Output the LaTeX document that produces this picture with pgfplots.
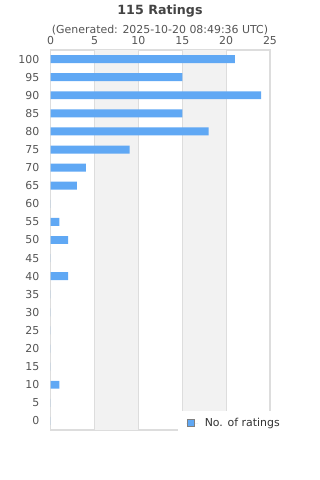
\documentclass[border=0pt]{standalone}
\usepackage{pgfplots}
\pgfplotsset{compat=1.18}
\usepackage{fontspec}
\setmainfont{DejaVu Sans}
\definecolor{barblue}{HTML}{60A8F4}
\definecolor{bandgray}{HTML}{F2F2F2}
\definecolor{gridgray}{HTML}{DDDDDD}
\definecolor{ticktext}{HTML}{555555}
\definecolor{titletext}{HTML}{444444}
\definecolor{legtext}{HTML}{333333}
\pgfplotstableread{
rating count
0 0
5 0
10 1
15 0
20 0
25 0
30 0
35 0
40 2
45 0
50 2
55 1
60 0
65 3
70 4
75 9
80 18
85 15
90 24
95 15
100 21
}\ratings
\begin{document}
\begin{tikzpicture}
\useasboundingbox (0,0) rectangle (240pt,360pt);
\node[font=\bfseries\fontsize{9.5}{11}\selectfont, text=titletext] at (120pt,351.5pt) {115 Ratings};
\node[font=\fontsize{8.2}{9.5}\selectfont, text=ticktext] at (120pt,337.5pt) {(Generated: 2025-10-20 08:49:36 UTC)};
\begin{axis}[
  at={(38pt,37.5pt)}, anchor=south west,
  scale only axis, width=164.5pt, height=285pt,
  xmin=0, xmax=25, ymin=-2.5, ymax=102.5,
  xtick={0,5,10,15,20,25},
  ytick={0,5,...,100},
  xticklabel pos=right,
  major tick length=0pt,
  axis line style={gridgray, line width=0.8pt},
  tick label style={font=\fontsize{8.2}{9.5}\selectfont, text=ticktext},
  /pgf/number format/assume math mode=true,
  xticklabel style={yshift=0.5pt},
  yticklabel style={xshift=-5pt},
  xbar, bar width=2.2,
  legend style={at={(0.58,0.05)}, anchor=north west, fill=white, draw=none,
    font=\fontsize{8.2}{9.5}\selectfont, text=legtext, inner xsep=6pt, inner ysep=3pt},
  legend cell align=left,
  legend image code/.code={\draw[fill=barblue, draw=gray, line width=0.6pt] (1pt,-2.5pt) rectangle (6pt,2.5pt);
    \path (0pt,0pt) -- (9pt,0pt);},
  legend style={nodes={inner xsep=5pt}},
]
\fill[bandgray] (axis cs:5,-2.5) rectangle (axis cs:10,102.5);
\fill[bandgray] (axis cs:15,-2.5) rectangle (axis cs:20,102.5);
\foreach \gx in {5,10,15,20} {
  \edef\temp{\noexpand\draw[gridgray, line width=0.6pt] (axis cs:\gx,-2.5) -- (axis cs:\gx,102.5);}
  \temp
}
\addplot[fill=barblue, draw=none] table[x=count, y=rating] {\ratings};
\addlegendentry{No. of ratings}
\end{axis}
\end{tikzpicture}
\end{document}
